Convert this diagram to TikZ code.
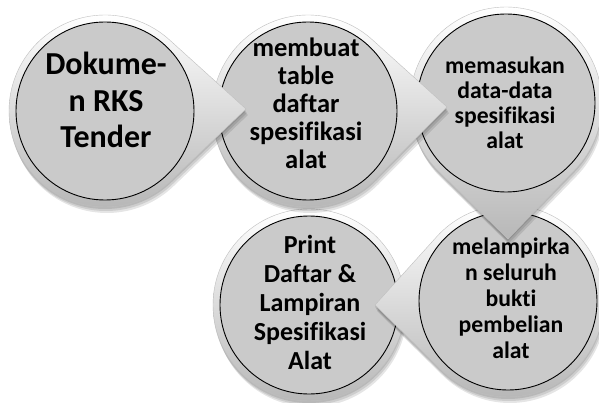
\documentclass[tikz,border=0pt]{standalone}
\usepackage{fontspec}
\setmainfont{Carlito}[Ligatures={NoCommon,NoContextual}]
\definecolor{bubfill}{RGB}{202,202,202}
\newcommand\Rout{96}
\newcommand\Rin{89}
\newcommand\nl{\kern0pt }% breaks font ligatures
% outer silver shape: convex hull of the ring circle and the tail tip
\newcommand\bubhull[5]{%
  \pgfmathsetmacro\bth{atan2((#4)-(#2),(#3)-(#1))}%
  \pgfmathsetmacro\bd{veclen((#3)-(#1),(#4)-(#2))}%
  \pgfmathsetmacro\bal{acos(\Rout/\bd)}%
  \pgfmathsetmacro\ba{\bth+\bal}%
  \pgfmathsetmacro\bb{\bth+360-\bal}%
  \path[#5] (#3,#4) -- plot[domain=\ba:\bb,samples=100] ({#1+\Rout*cos(\x)},{#2+\Rout*sin(\x)}) -- cycle;%
}
\newcommand\bubshape[4]{%
  \foreach \s/\t in {0/2,1/4,2/6}{\bubhull{#1+\s}{#2+\t}{#3+\s}{#4+\t}{fill=black,opacity=0.10}}%
  \bubhull{#1}{#2}{#3}{#4}{top color=white,middle color=black!5,bottom color=black!28,draw=black!25,line width=0.4pt}%
}
\newcommand\bubplain[2]{%
  \foreach \s/\t in {0/2,1/4,2/6}{\fill[black,opacity=0.10] (#1+\s,#2+\t) circle[radius=\Rout];}%
  \shade[top color=white,middle color=black!5,bottom color=black!28,draw=black!25,line width=0.4pt] (#1,#2) circle[radius=\Rout];%
}
\tikzset{
  inner/.style={circle,draw=black,line width=0.9pt,fill=bubfill,minimum size=178pt,inner sep=0pt},
  label/.style={align=center,text=black,inner sep=0pt,font=\bfseries},
}
\begin{document}
\begin{tikzpicture}[x=1pt,y=-1pt]
\useasboundingbox (0,0) rectangle (599,403);
\fill[white] (0,0) rectangle (599,403);
% shape 5
\bubplain{309}{305}
\node[inner] (c5) at (309,305) {};
\node[label,font=\bfseries\fontsize{26}{29}\selectfont] (t5) at (310,302) {Print\\Daf\nl tar \&\\Lampiran\\Spesif\nl ikasi\\Alat};
% shape 4
\bubshape{508}{301}{375}{305}
\node[inner] (c4) at (508,301) {};
\node[label,font=\bfseries\fontsize{23.7}{26}\selectfont] (t4) at (511,298) {melampirka\\n seluruh\\bukt\nl i\\pembelian\\alat};
% shape 3
\bubshape{506}{103}{508}{239}
\node[inner] (c3) at (506,103) {};
\node[label,font=\bfseries\fontsize{23.7}{25}\selectfont] (t3) at (505,103) {memasukan\\data-data\\spesif\nl ikasi\\alat};
% shape 2
\bubshape{308}{111}{447}{107}
\node[inner] (c2) at (308,111) {};
\node[label,font=\bfseries\fontsize{26.5}{28}\selectfont] (t2) at (306,103) {membuat\\table\\daf\nl tar\\spesif\nl ikasi\\alat};
% shape 1
\bubshape{105}{111}{246}{109}
\node[inner] (c1) at (105,111) {};
\node[label,font=\bfseries\fontsize{32}{36.5}\selectfont] (t1) at (106,100) {Dokume-\\n RKS\\Tender};
\end{tikzpicture}
\end{document}
